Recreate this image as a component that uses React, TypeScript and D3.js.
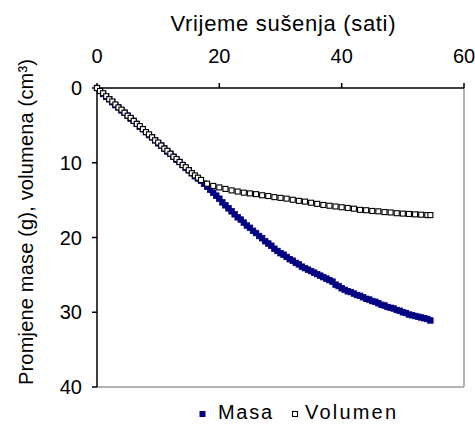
import React from "react";
import * as d3 from "d3";

// Shared early drying times (h)
const timeEarly = [0, 0.5, 1, 1.5, 2, 2.5, 3, 3.5, 4, 4.5, 5, 5.5, 6, 6.5, 7, 7.5, 8, 8.5, 9, 9.5, 10, 10.5, 11, 11.5, 12, 12.5, 13, 13.5, 14, 14.5, 15, 15.5, 16, 16.5, 17];
const masaEarly = [0, 0.4, 0.8, 1.2, 1.5, 1.9, 2.3, 2.6, 3.0, 3.3, 3.7, 4.1, 4.4, 4.8, 5.2, 5.5, 5.9, 6.3, 6.6, 7.0, 7.4, 7.7, 8.1, 8.5, 8.8, 9.2, 9.6, 9.9, 10.3, 10.7, 11.0, 11.4, 11.8, 12.1, 12.4];
const volumenEarly = [0, 0.4, 0.7, 1.1, 1.5, 1.8, 2.2, 2.6, 2.9, 3.3, 3.7, 4.0, 4.4, 4.8, 5.1, 5.5, 5.9, 6.2, 6.6, 7.0, 7.3, 7.7, 8.1, 8.4, 8.8, 9.2, 9.5, 9.9, 10.3, 10.6, 11.0, 11.4, 11.7, 12.0, 12.3];

const timeMasaLate = [17.5, 18, 18.5, 19, 19.5, 20, 20.5, 21, 21.5, 22, 22.5, 23, 23.5, 24, 24.5, 25, 25.5, 26, 26.5, 27, 27.5, 28, 28.5, 29, 29.5, 30, 30.5, 31, 31.5, 32, 32.5, 33, 33.5, 34, 34.5, 35, 35.5, 36, 36.5, 37, 37.5, 38, 38.5, 39, 39.5, 40, 40.5, 41, 41.5, 42, 42.5, 43, 43.5, 44, 44.5, 45, 45.5, 46, 46.5, 47, 47.5, 48, 48.5, 49, 49.5, 50, 50.5, 51, 51.5, 52, 52.5, 53, 53.5, 54, 54.5];
const masaLate = [12.8, 13.2, 13.6, 14.0, 14.4, 14.8, 15.3, 15.7, 16.1, 16.5, 16.9, 17.3, 17.6, 18.0, 18.4, 18.7, 19.1, 19.4, 19.8, 20.1, 20.5, 20.8, 21.1, 21.5, 21.8, 22.1, 22.3, 22.6, 22.9, 23.1, 23.4, 23.6, 23.9, 24.1, 24.3, 24.5, 24.7, 24.9, 25.1, 25.3, 25.5, 25.7, 25.9, 26.3, 26.5, 26.8, 27.0, 27.2, 27.3, 27.5, 27.7, 27.8, 28.0, 28.2, 28.3, 28.5, 28.6, 28.8, 29.0, 29.1, 29.3, 29.4, 29.5, 29.7, 29.8, 30.0, 30.1, 30.3, 30.4, 30.5, 30.6, 30.7, 30.8, 30.9, 31.1];

const timeVolumenLate = [18, 19, 20, 21, 22, 23, 24, 25, 26, 27, 28, 29, 30, 31, 32, 33, 34, 35, 36, 37, 38, 39, 40, 41, 42, 43, 44, 45, 46, 47, 48, 49, 50, 51, 52, 53, 54, 54.5];
const volumenLate = [12.8, 13.1, 13.3, 13.5, 13.7, 13.85, 14.0, 14.1, 14.2, 14.35, 14.45, 14.6, 14.7, 14.8, 14.95, 15.1, 15.2, 15.35, 15.5, 15.65, 15.75, 15.85, 15.95, 16.05, 16.15, 16.3, 16.35, 16.45, 16.5, 16.6, 16.65, 16.75, 16.8, 16.85, 16.9, 16.95, 17.0, 17.0];

const xTicks = [0, 20, 40, 60];
const yTicks = [0, 10, 20, 30, 40];
const xTitle = "Vrijeme sušenja (sati)";
const yTitle = "Promjene mase (g), volumena (cm³)";
const legendLabels = ["Masa", "Volumen"];

const FONT = "'Liberation Sans', Arial, sans-serif";
const NAVY = "#000080";

export default function App() {
  const left = 97, right = 464, top = 88, bottom = 387;
  const x = d3.scaleLinear().domain([0, 60]).range([left, right]);
  const y = d3.scaleLinear().domain([0, 40]).range([top, bottom]);

  const masa = [...timeEarly.map((t, i) => [t, masaEarly[i]]), ...timeMasaLate.map((t, i) => [t, masaLate[i]])];
  const vol = [...timeEarly.map((t, i) => [t, volumenEarly[i]]), ...timeVolumenLate.map((t, i) => [t, volumenLate[i]])];
  const ms = 5.5;
  const vs = 5;

  return (
    <svg width={475} height={424} style={{ position: "absolute", left: 0, top: 0, background: "#fff" }} fontFamily={FONT}>
      <rect x={0} y={0} width={475} height={424} fill="#fff" />
      {/* plot border (gray right/bottom) */}
      <line x1={right} x2={right} y1={top} y2={bottom} stroke="#999" strokeWidth={1.5} />
      <line x1={left} x2={right} y1={bottom} y2={bottom} stroke="#999" strokeWidth={1.5} />
      {/* axes */}
      <line x1={left} x2={right} y1={top} y2={top} stroke="#000" strokeWidth={1.5} />
      <line x1={left} x2={left} y1={top} y2={bottom} stroke="#000" strokeWidth={1.5} />
      {xTicks.map((t) => (
        <g key={"xt" + t}>
          <line x1={x(t)} x2={x(t)} y1={top} y2={top - 5} stroke="#000" strokeWidth={1.5} />
          <text x={x(t)} y={63} textAnchor="middle" fontSize={20} fill="#000">{t}</text>
        </g>
      ))}
      {yTicks.map((t) => (
        <g key={"yt" + t}>
          <line x1={left} x2={left - 5} y1={y(t)} y2={y(t)} stroke="#000" strokeWidth={1.5} />
          <text x={82} y={y(t) + 7} textAnchor="end" fontSize={20} fill="#000">{t}</text>
        </g>
      ))}
      <text x={283} y={31} textAnchor="middle" fontSize={22} textLength={225} lengthAdjust="spacing" fill="#000">{xTitle}</text>
      <text transform={`translate(33,222) rotate(-90)`} textAnchor="middle" fontSize={20} textLength={326} lengthAdjust="spacing" fill="#000">{yTitle}</text>

      {/* series */}
      <g>
        {masa.map(([t, v], i) => (
          <rect key={"m" + i} x={x(t) - ms / 2} y={y(v) - ms / 2} width={ms} height={ms} fill={NAVY} stroke={NAVY} strokeWidth={0.8} />
        ))}
      </g>
      <g>
        {vol.map(([t, v], i) => (
          <rect key={"v" + i} x={x(t) - vs / 2} y={y(v) - vs / 2} width={vs} height={vs} fill="#fff" stroke="#000" strokeWidth={1.1} />
        ))}
      </g>

      {/* legend */}
      <rect x={199.5} y={411} width={6} height={6} fill={NAVY} />
      <text x={218} y={419} fontSize={20} textLength={54} lengthAdjust="spacing" fill="#000">{legendLabels[0]}</text>
      <rect x={292.5} y={411.5} width={5} height={5} fill="#fff" stroke="#000" strokeWidth={1.1} />
      <text x={305} y={419} fontSize={20} textLength={91} lengthAdjust="spacing" fill="#000">{legendLabels[1]}</text>
    </svg>
  );
}
